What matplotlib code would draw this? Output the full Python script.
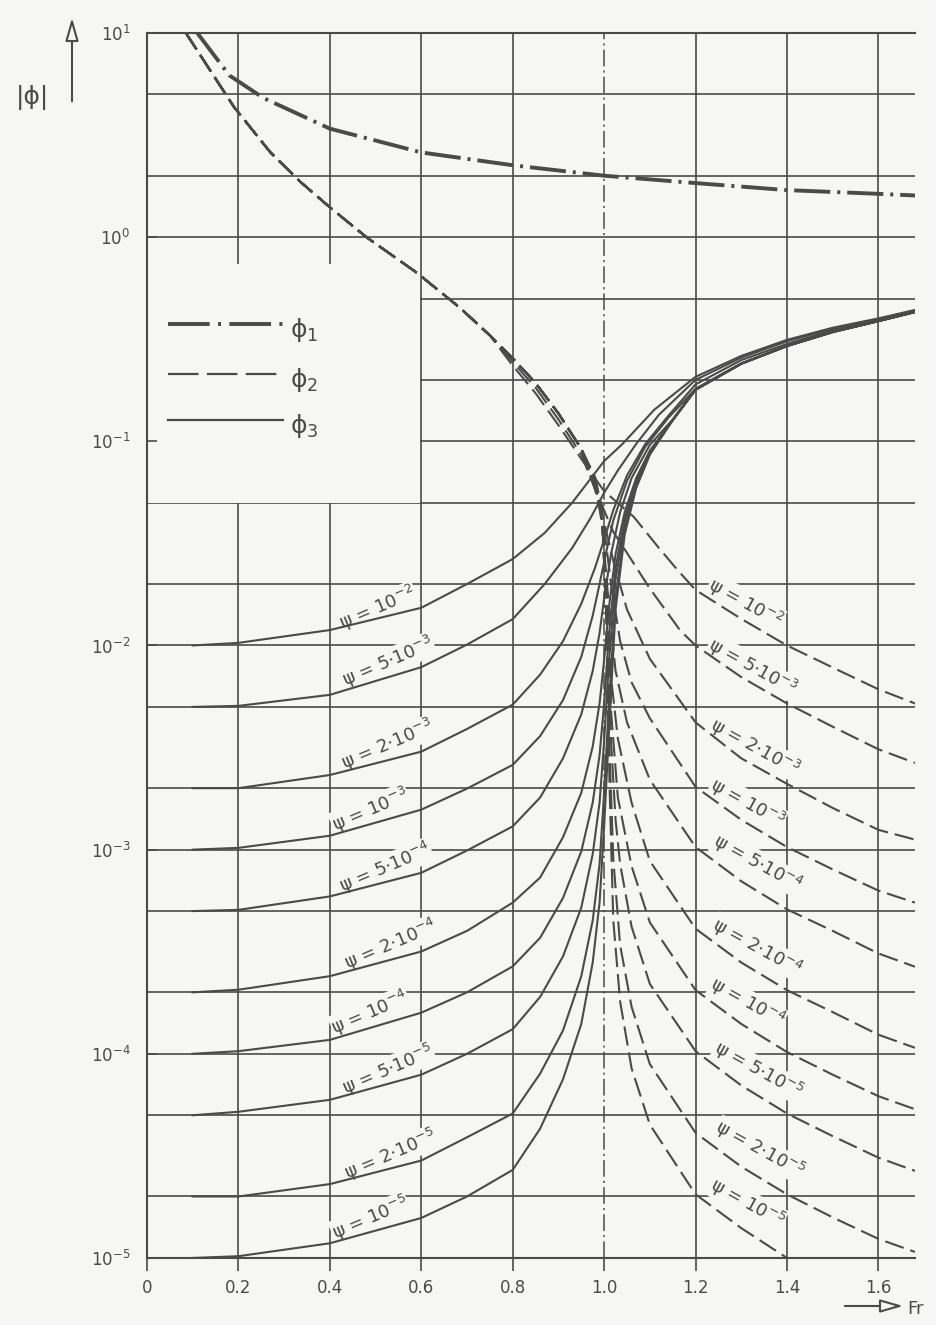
import matplotlib
matplotlib.use('Agg')
import matplotlib.pyplot as plt
from matplotlib.patches import Rectangle, FancyArrowPatch
from matplotlib.lines import Line2D
from matplotlib.ticker import NullLocator

plt.rcParams['font.family'] = ['DejaVu Sans']
plt.rcParams['lines.scale_dashes'] = False

ink = '#4a4a4a'
paper = '#f6f6f4'

# psi values of the curve families (labels)
psi_labels = ['10$^{-2}$', '5·10$^{-3}$', '2·10$^{-3}$', '10$^{-3}$', '5·10$^{-4}$',
              '2·10$^{-4}$', '10$^{-4}$', '5·10$^{-5}$', '2·10$^{-5}$', '10$^{-5}$']

# phi_1
phi1_fr = [0.11, 0.18, 0.255, 0.4, 0.6, 0.8, 1.0, 1.2, 1.4, 1.6, 1.68]
phi1_val = [10.0, 6.2, 4.8, 3.4, 2.6, 2.25, 2.0, 1.84, 1.70, 1.63, 1.60]

# phi_2: common upper branch, then one tail per psi
phi2_branch_fr = [0.085, 0.19, 0.27, 0.335, 0.4, 0.48, 0.59, 0.685, 0.75]
phi2_branch_val = [10.0, 4.35, 2.6, 1.87, 1.40, 1.0, 0.67, 0.45, 0.33]

phi2_mid_fr = [
    [0.8, 0.85, 0.9, 0.95, 1.0, 1.065, 1.12, 1.16],
    [0.8, 0.85, 0.9, 0.95, 0.985, 1.02, 1.05, 1.1, 1.167],
    [0.8, 0.85, 0.9, 0.95, 0.98, 1.0, 1.02, 1.05, 1.1],
    [0.8, 0.85, 0.9, 0.95, 0.98, 1.0, 1.015, 1.035, 1.06, 1.1],
    [0.8, 0.85, 0.9, 0.95, 0.98, 0.995, 1.01, 1.025, 1.05, 1.1],
    [0.8, 0.85, 0.9, 0.95, 0.98, 0.995, 1.005, 1.015, 1.03, 1.06, 1.1],
    [0.8, 0.85, 0.9, 0.95, 0.98, 0.995, 1.005, 1.015, 1.03, 1.06, 1.1],
    [0.8, 0.85, 0.9, 0.95, 0.98, 0.995, 1.005, 1.012, 1.025, 1.035, 1.06, 1.1],
    [0.8, 0.85, 0.9, 0.95, 0.98, 0.995, 1.005, 1.012, 1.02, 1.035, 1.06, 1.1],
    [0.8, 0.85, 0.9, 0.95, 0.98, 0.995, 1.005, 1.012, 1.02, 1.035, 1.06, 1.1],
]
phi2_mid_val = [
    [0.235, 0.172, 0.12, 0.082, 0.057, 0.0426, 0.030, 0.0235],
    [0.245, 0.183, 0.128, 0.086, 0.055, 0.036, 0.0284, 0.019, 0.0118],
    [0.255, 0.193, 0.137, 0.092, 0.058, 0.040, 0.026, 0.015, 0.0086],
    [0.255, 0.193, 0.137, 0.092, 0.060, 0.038, 0.020, 0.0105, 0.0066, 0.0044],
    [0.255, 0.193, 0.137, 0.092, 0.062, 0.040, 0.016, 0.0075, 0.0042, 0.0022],
    [0.255, 0.193, 0.137, 0.092, 0.063, 0.043, 0.018, 0.0070, 0.0035, 0.0017, 8.8e-4],
    [0.255, 0.193, 0.137, 0.092, 0.064, 0.044, 0.016, 0.0048, 0.0018, 8.3e-4, 4.4e-4],
    [0.255, 0.193, 0.137, 0.092, 0.065, 0.045, 0.015, 0.0045, 0.0014, 8.5e-4, 4.2e-4, 2.2e-4],
    [0.255, 0.193, 0.137, 0.092, 0.066, 0.046, 0.014, 0.0030, 9e-4, 3.4e-4, 1.7e-4, 8.9e-5],
    [0.255, 0.193, 0.137, 0.092, 0.067, 0.047, 0.013, 0.0020, 4.5e-4, 1.8e-4, 8.5e-5, 4.5e-5],
]
phi2_right_fr = [1.2, 1.3, 1.4, 1.5, 1.6, 1.68]
phi2_right_val = [
    [0.0187, 0.0135, 0.0100, 0.0078, 0.0061, 0.0052],
    [0.0100, 0.0070, 0.0052, 0.0040, 0.0031, 0.00266],
    [0.0042, 0.0028, 0.0021, 0.0016, 0.00125, 0.00112],
    [0.00203, 0.0014, 0.00103, 0.0008, 0.00063, 0.00055],
    [0.00103, 0.0007, 0.00051, 0.0004, 0.00031, 0.000267],
    [4.1e-4, 2.8e-4, 2.05e-4, 1.6e-4, 1.24e-4, 1.07e-4],
    [2.05e-4, 1.4e-4, 1.02e-4, 7.9e-5, 6.2e-5, 5.35e-5],
    [1.03e-4, 7e-5, 5.1e-5, 3.95e-5, 3.1e-5, 2.67e-5],
    [4.1e-5, 2.8e-5, 2.05e-5, 1.58e-5, 1.24e-5, 1.07e-5],
    [2.05e-5, 1.4e-5, 1.0e-5],
]

# phi_3: left part, resonance part, right part per psi
phi3_left_fr = [0.1, 0.2, 0.4, 0.6, 0.7, 0.8]
phi3_left_val = [
    [0.0100, 0.0103, 0.0119, 0.0153, 0.0200, 0.0265],
    [0.0050, 0.00506, 0.00573, 0.00783, 0.0101, 0.01346],
    [0.0020, 0.0020, 0.00232, 0.00302, 0.0039, 0.00513],
    [0.00100, 0.00102, 0.00117, 0.00157, 0.00199, 0.0026],
    [5.0e-4, 5.07e-4, 5.9e-4, 7.7e-4, 9.9e-4, 1.3e-3],
    [2.0e-4, 2.06e-4, 2.4e-4, 3.17e-4, 4.0e-4, 5.5e-4],
    [1.0e-4, 1.03e-4, 1.17e-4, 1.59e-4, 2.0e-4, 2.68e-4],
    [5.0e-5, 5.2e-5, 5.95e-5, 7.9e-5, 1.0e-4, 1.32e-4],
    [2.0e-5, 2.0e-5, 2.3e-5, 3.0e-5, 3.9e-5, 5.1e-5],
    [1.0e-5, 1.02e-5, 1.18e-5, 1.57e-5, 2.0e-5, 2.7e-5],
]
phi3_mid_fr = [
    [0.87, 0.93, 1.0, 1.04, 1.11],
    [0.87, 0.93, 0.97, 1.0, 1.03, 1.07, 1.12],
    [0.86, 0.91, 0.95, 0.98, 1.0, 1.02, 1.05, 1.09, 1.14],
    [0.86, 0.91, 0.95, 0.975, 0.99, 1.005, 1.02, 1.05, 1.09, 1.14],
    [0.86, 0.91, 0.95, 0.975, 0.99, 1.0, 1.015, 1.035, 1.06, 1.1, 1.15],
    [0.86, 0.91, 0.95, 0.975, 0.99, 1.0, 1.01, 1.025, 1.045, 1.07, 1.1, 1.15],
    [0.86, 0.91, 0.95, 0.975, 0.99, 1.0, 1.01, 1.025, 1.045, 1.07, 1.1, 1.15],
    [0.86, 0.91, 0.95, 0.975, 0.99, 1.0, 1.01, 1.025, 1.045, 1.07, 1.1, 1.15],
    [0.86, 0.91, 0.95, 0.975, 0.99, 1.0, 1.01, 1.025, 1.045, 1.07, 1.1, 1.15],
    [0.86, 0.91, 0.95, 0.975, 0.99, 1.0, 1.01, 1.025, 1.045, 1.07, 1.1, 1.15],
]
phi3_mid_val = [
    [0.0356, 0.050, 0.080, 0.097, 0.143],
    [0.020, 0.030, 0.042, 0.056, 0.072, 0.097, 0.135],
    [0.0072, 0.0105, 0.016, 0.024, 0.033, 0.046, 0.068, 0.097, 0.133],
    [0.0036, 0.0054, 0.0088, 0.014, 0.020, 0.029, 0.041, 0.064, 0.094, 0.130],
    [0.0018, 0.0028, 0.0046, 0.0075, 0.0115, 0.017, 0.028, 0.045, 0.066, 0.096, 0.128],
    [7.3e-4, 1.15e-3, 1.9e-3, 3.2e-3, 5.2e-3, 8.5e-3, 0.015, 0.028, 0.045, 0.066, 0.090, 0.127],
    [3.7e-4, 5.8e-4, 9.8e-4, 1.7e-3, 2.9e-3, 5.2e-3, 0.011, 0.024, 0.042, 0.064, 0.089, 0.127],
    [1.9e-4, 3.0e-4, 5.2e-4, 9.5e-4, 1.7e-3, 3.4e-3, 8e-3, 0.021, 0.040, 0.062, 0.088, 0.127],
    [8.0e-5, 1.3e-4, 2.4e-4, 4.5e-4, 8.5e-4, 1.9e-3, 5e-3, 0.017, 0.037, 0.060, 0.087, 0.127],
    [4.3e-5, 7.5e-5, 1.4e-4, 2.8e-4, 5.5e-4, 1.3e-3, 3.6e-3, 0.015, 0.035, 0.059, 0.086, 0.127],
]
phi3_right_fr = [1.2, 1.3, 1.4, 1.5, 1.6, 1.68]
phi3_right_val = [
    [0.207, 0.262, 0.314, 0.360, 0.400, 0.440],
    [0.200, 0.257, 0.309, 0.356, 0.397, 0.437],
    [0.190, 0.250, 0.300, 0.350, 0.392, 0.433],
    [0.181, 0.241, 0.293, 0.343, 0.388, 0.430],
    [0.180, 0.240, 0.293, 0.343, 0.388, 0.430],
    [0.179, 0.240, 0.293, 0.343, 0.388, 0.430],
    [0.179, 0.240, 0.293, 0.343, 0.388, 0.430],
    [0.179, 0.240, 0.293, 0.343, 0.388, 0.430],
    [0.179, 0.240, 0.293, 0.343, 0.388, 0.430],
    [0.179, 0.240, 0.293, 0.343, 0.388, 0.430],
]

# label anchors (Fr, |phi|)
left_label_pos = [(0.505, 0.0153), (0.527, 0.00832), (0.527, 0.00326), (0.488, 0.00157),
                  (0.521, 8.15e-4), (0.532, 3.42e-4), (0.488, 1.59e-4), (0.527, 8.35e-5),
                  (0.532, 3.2e-5), (0.488, 1.57e-5)]
right_label_pos = [(1.309, 0.0162), (1.324, 0.00785), (1.330, 0.00318), (1.313, 0.00169),
                   (1.335, 8.6e-4), (1.335, 3.34e-4), (1.313, 1.78e-4), (1.337, 8.35e-5),
                   (1.341, 3.39e-5), (1.313, 1.86e-5)]

fig = plt.figure(figsize=(9.37, 13.25), dpi=100, facecolor=paper)
ax = fig.add_axes([0.1569, 0.0506, 0.8196, 0.9245], facecolor=paper)
ax.set_yscale('log')
ax.set_xlim(0, 1.68)
ax.set_ylim(1e-5, 10)

# grid: 1-2-5 per decade, every 0.2 in Fr, dash-dot at Fr = 1
for k in range(-5, 1):
    for m in (1, 2, 5):
        v = m * 10.0 ** k
        if 1e-5 < v < 10:
            ax.axhline(v, color=ink, lw=1.2, zorder=0.5)
for x in (0.2, 0.4, 0.6, 0.8, 1.2, 1.4, 1.6):
    ax.axvline(x, color=ink, lw=1.2, zorder=0.5)
ax.axvline(1.0, color=ink, lw=1.1, zorder=0.5, dashes=(12, 3, 1.5, 3))

# blank area behind the legend
ax.add_patch(Rectangle((0, 0.05), 0.597, 0.69, facecolor=paper, edgecolor='none', zorder=0.8))

dash2 = (14, 5)
dash1 = (26, 5, 2.2, 5)
ax.plot(phi1_fr, phi1_val, color=ink, lw=2.8, dashes=dash1, zorder=2)

for i in range(len(psi_labels)):
    fr = phi2_branch_fr + phi2_mid_fr[i] + phi2_right_fr[:len(phi2_right_val[i])]
    val = phi2_branch_val + phi2_mid_val[i] + phi2_right_val[i]
    ax.plot(fr, val, color=ink, lw=1.5, dashes=dash2, zorder=2)

    fr = phi3_left_fr + phi3_mid_fr[i] + phi3_right_fr
    val = phi3_left_val[i] + phi3_mid_val[i] + phi3_right_val[i]
    ax.plot(fr, val, color=ink, lw=1.5, zorder=2)

for lab, (lx, ly) in zip(psi_labels, left_label_pos):
    ax.text(lx, ly, 'ψ = ' + lab, rotation=23, rotation_mode='anchor', ha='center',
            va='center', fontsize=13, color=ink, zorder=1,
            bbox=dict(facecolor=paper, edgecolor='none', pad=0.5))
for lab, (lx, ly) in zip(psi_labels, right_label_pos):
    ax.text(lx, ly, 'ψ = ' + lab, rotation=-29, rotation_mode='anchor', ha='center',
            va='center', fontsize=13, color=ink, zorder=1,
            bbox=dict(facecolor=paper, edgecolor='none', pad=0.5))

# axes, ticks
for side in ('left', 'top', 'bottom'):
    ax.spines[side].set_color(ink)
    ax.spines[side].set_linewidth(1.5)
ax.spines['right'].set_visible(False)

ax.set_xticks([0, 0.2, 0.4, 0.6, 0.8, 1.0, 1.2, 1.4, 1.6])
ax.set_xticklabels(['0', '0.2', '0.4', '0.6', '0.8', '1.0', '1.2', '1.4', '1.6'])
ax.tick_params(axis='x', direction='out', length=9, width=1.2, color=ink,
               labelsize=12, labelcolor=ink, pad=6)
ax.set_yticks([10.0 ** k for k in range(-5, 2)])
ax.set_yticklabels(['$10^{%d}$' % k for k in range(-5, 2)])
ax.yaxis.set_minor_locator(NullLocator())
ax.tick_params(axis='y', direction='in', length=7, width=1.2, color=ink,
               labelsize=12, labelcolor=ink, pad=12)

# legend drawn by hand
W, H = 937.0, 1325.0
legend_rows = [(324, dict(lw=2.8, dashes=(30, 6, 2.2, 6)), 'ϕ$_1$'),
               (374, dict(lw=1.6, dashes=(22, 6)), 'ϕ$_2$'),
               (420, dict(lw=1.6), 'ϕ$_3$')]
for py, style, lab in legend_rows:
    fig.add_artist(Line2D([168 / W, 283 / W], [1 - py / H, 1 - py / H], color=ink, **style))
    fig.text(290 / W, 1 - (py + 6) / H, lab, fontsize=18, color=ink, va='center', ha='left')

# axis captions with hollow arrows
fig.text(33 / W, 1 - 97 / H, '|ϕ|', fontsize=18, color=ink, ha='center', va='center')
fig.add_artist(FancyArrowPatch((72 / W, 1 - 104 / H), (72 / W, 1 - 15 / H),
                               transform=fig.transFigure,
                               arrowstyle='-|>,head_length=14,head_width=4',
                               edgecolor=ink, facecolor=paper, lw=1.5))
fig.add_artist(FancyArrowPatch((842 / W, 1 - 1306 / H), (906 / W, 1 - 1306 / H),
                               transform=fig.transFigure,
                               arrowstyle='-|>,head_length=14,head_width=4',
                               edgecolor=ink, facecolor=paper, lw=1.5))
fig.text(907 / W, 1 - 1309 / H, 'Fr', fontsize=13, color=ink, ha='left', va='center')

fig.savefig('out.png', dpi=100, facecolor=paper)
